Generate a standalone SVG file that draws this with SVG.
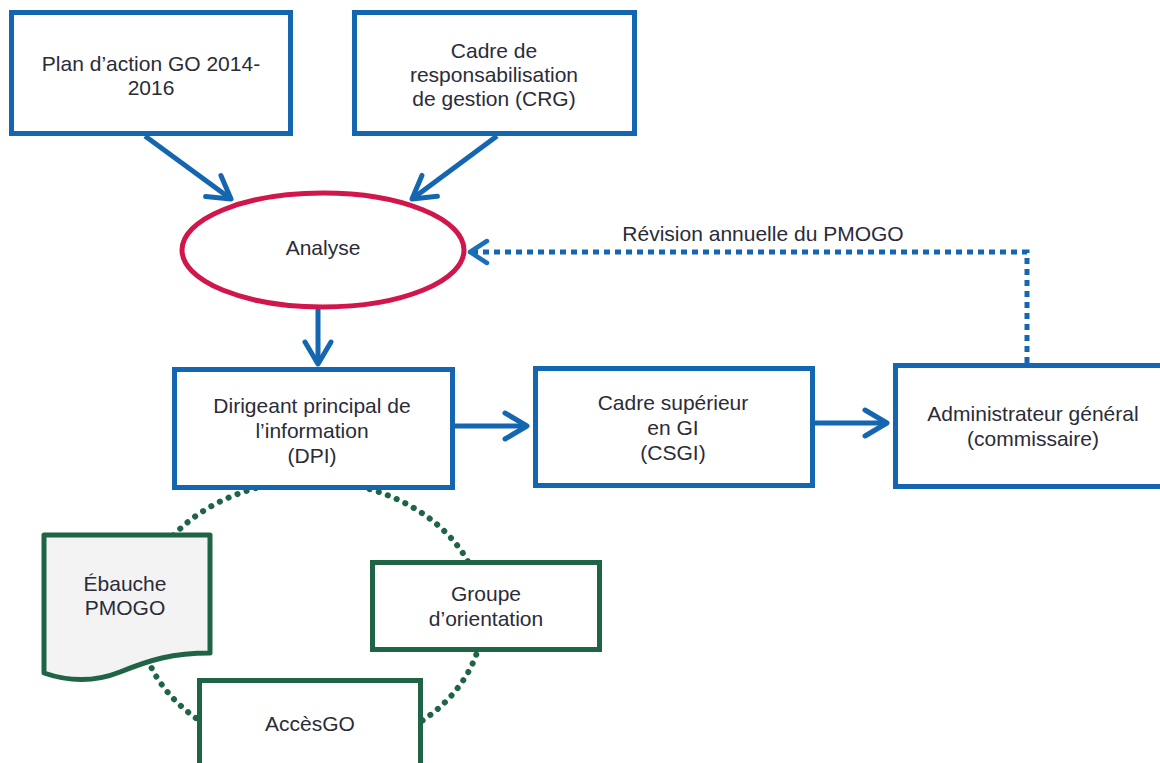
<svg xmlns="http://www.w3.org/2000/svg" width="1160" height="763" viewBox="0 0 1160 763">
<style>
.box{fill:#ffffff;stroke:#1466b0;stroke-width:5}
.gbox{fill:#ffffff;stroke:#1f6444;stroke-width:5}
.doc{fill:#f3f3f3;stroke:#1f6444;stroke-width:5;stroke-linejoin:round}
.ell{fill:#ffffff;stroke:#d0164a;stroke-width:5}
.t{font-family:"Liberation Sans",Arial,sans-serif;font-size:21px;fill:#2a2c38;text-anchor:middle}
.conn{fill:none;stroke:#1466b0;stroke-width:5}
.dot{fill:none;stroke:#1466b0;stroke-width:5;stroke-dasharray:6 5}
.loop{fill:none;stroke:#1f6444;stroke-width:6;stroke-dasharray:0.1 9.5;stroke-linecap:round}
</style>
<defs>
<marker id="ah" markerUnits="userSpaceOnUse" markerWidth="30" markerHeight="32" viewBox="0 0 30 32" refX="26" refY="16" orient="auto">
<path d="M4,3 L26,16 L4,29" fill="none" stroke="#1466b0" stroke-width="5" stroke-linecap="round" stroke-linejoin="round"/>
</marker>
<marker id="ahs" markerUnits="userSpaceOnUse" markerWidth="26" markerHeight="30" viewBox="0 0 26 30" refX="22" refY="15" orient="auto">
<path d="M5,4 L22,15 L5,26" fill="none" stroke="#1a6fb8" stroke-width="4.5" stroke-linecap="round" stroke-linejoin="round"/>
</marker>
</defs>
<rect width="1160" height="763" fill="#ffffff"/>

<g id="loop">
<ellipse class="loop" cx="311" cy="617" rx="172" ry="136"/>
</g>

<g id="connectors">
<line class="conn" x1="145" y1="136" x2="231" y2="199" marker-end="url(#ah)"/>
<line class="conn" x1="497" y1="136" x2="412" y2="199" marker-end="url(#ah)"/>
<line class="conn" x1="318" y1="308" x2="318" y2="364" marker-end="url(#ah)"/>
<line class="conn" x1="455" y1="426" x2="527" y2="426" marker-end="url(#ah)"/>
<line class="conn" x1="815" y1="423" x2="887" y2="423" marker-end="url(#ah)"/>
<path class="dot" d="M1027,363 V252 H470" marker-end="url(#ahs)"/>
<text class="t" x="763" y="241">Révision annuelle du PMOGO</text>
</g>

<g id="plan">
<rect class="box" x="11.5" y="12.5" width="279" height="121"/>
<text class="t" x="151" y="70.5">Plan d’action GO 2014-</text>
<text class="t" x="151" y="94.5">2016</text>
</g>

<g id="crg">
<rect class="box" x="354.5" y="12.5" width="280" height="121"/>
<text class="t" x="494" y="57.5">Cadre de</text>
<text class="t" x="494" y="81.5">responsabilisation</text>
<text class="t" x="494" y="105.5">de gestion (CRG)</text>
</g>

<g id="analyse">
<ellipse class="ell" cx="323" cy="250" rx="141" ry="57"/>
<text class="t" x="323" y="254.5">Analyse</text>
</g>

<g id="dpi">
<rect class="box" x="174.5" y="369.5" width="278" height="118"/>
<text class="t" x="312" y="412.5">Dirigeant principal de</text>
<text class="t" x="312" y="437.5">l’information</text>
<text class="t" x="312" y="462.5">(DPI)</text>
</g>

<g id="csgi">
<rect class="box" x="535.5" y="368.5" width="277" height="117"/>
<text class="t" x="673" y="409.5">Cadre supérieur</text>
<text class="t" x="673" y="434.5">en GI</text>
<text class="t" x="673" y="459.5">(CSGI)</text>
</g>

<g id="admin">
<rect class="box" x="895.5" y="365.5" width="280" height="121"/>
<text class="t" x="1033" y="420.5">Administrateur général</text>
<text class="t" x="1033" y="445.5">(commissaire)</text>
</g>

<g id="ebauche">
<path class="doc" d="M44,535 H210 V653 C172,653 150,660 120,672 C95,682 70,682 44,673 Z"/>
<text class="t" x="125" y="590.5">Ébauche</text>
<text class="t" x="125" y="614.5">PMOGO</text>
</g>

<g id="groupe">
<rect class="gbox" x="372.5" y="562.5" width="227" height="87"/>
<text class="t" x="486" y="600.5">Groupe</text>
<text class="t" x="486" y="625.5">d’orientation</text>
</g>

<g id="accesgo">
<rect class="gbox" x="199.5" y="680.5" width="221" height="100"/>
<text class="t" x="310" y="730.5">AccèsGO</text>
</g>
</svg>
